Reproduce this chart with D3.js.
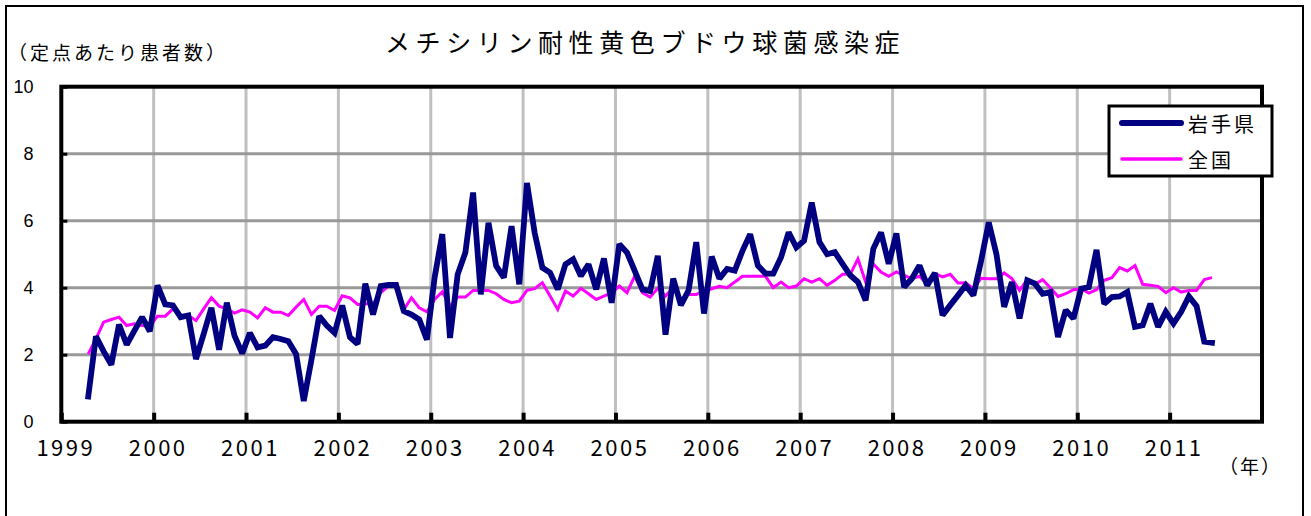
<!DOCTYPE html>
<html><head><meta charset="utf-8">
<script src="https://cdn.jsdelivr.net/npm/d3@7"></script>
<style>
html,body{margin:0;padding:0;background:#fff;}
svg{display:block;}
</style></head><body>
<svg id="chart" width="1311" height="516"></svg>
<script>
const title = "メチシリン耐性黄色ブドウ球菌感染症";
const yAxisTitle = "（定点あたり患者数）";
const xAxisTitle = "（年）";
const seriesNames = ["岩手県", "全国"];
const yearLabels = ["1999","2000","2001","2002","2003","2004","2005","2006","2007","2008","2009","2010","2011"];
const yTicks = [0, 2, 4, 6, 8, 10];
const firstYear = 1999, firstMonth = 4; // data start: April 1999, monthly

const iwate = [
  0.75, 2.55, 2.1, 1.7, 2.9, 2.3, 2.72, 3.12, 2.7,
  4.07, 3.5, 3.47, 3.12, 3.17, 1.87, 2.62, 3.4, 2.15, 3.55, 2.57, 2.04,
  2.65, 2.22, 2.27, 2.52, 2.47, 2.4, 2.02, 0.62, 1.85, 3.15, 2.87, 2.65,
  3.47, 2.52, 2.32, 4.12, 3.2, 4.05, 4.08, 4.08, 3.3, 3.2, 3.05, 2.45,
  4.3, 5.6, 2.5, 4.4, 5.05, 6.84, 3.8, 5.94, 4.65, 4.3, 5.84, 4.1,
  7.13, 5.64, 4.6, 4.45, 3.95, 4.7, 4.85, 4.35, 4.7, 3.95, 4.87, 3.55,
  5.3, 5.05, 4.5, 3.95, 3.9, 4.95, 2.6, 4.27, 3.48, 3.92, 5.36, 3.23,
  4.93, 4.27, 4.56, 4.51, 5.1, 5.6, 4.66, 4.42, 4.42, 4.9, 5.65, 5.2,
  5.4, 6.54, 5.36, 5.0, 5.06, 4.71, 4.37, 4.17, 3.62, 5.16, 5.65, 4.71,
  5.62, 4.02, 4.27, 4.66, 4.07, 4.44, 3.18, 3.48, 3.77, 4.07, 3.77, 4.8,
  5.95, 5.0, 3.43, 4.17, 3.08, 4.22, 4.12, 3.82, 3.87, 2.53, 3.33, 3.08,
  3.97, 4.02, 5.13, 3.52, 3.72, 3.74, 3.87, 2.83, 2.88, 3.52, 2.83, 3.28,
  2.93, 3.28, 3.74, 3.45, 2.39, 2.36
];
const zenkoku = [
  2.02, 2.47, 2.97, 3.05, 3.12, 2.87, 2.92, 2.87, 2.85,
  3.15, 3.15, 3.37, 3.17, 3.17, 3.02, 3.37, 3.7, 3.45, 3.37, 3.24, 3.34,
  3.27, 3.1, 3.4, 3.27, 3.27, 3.17, 3.42, 3.65, 3.2, 3.45, 3.45, 3.32,
  3.76, 3.7, 3.5, 3.52, 3.52, 3.85, 4.05, 4.12, 3.35, 3.7, 3.4, 3.28,
  3.65, 3.88, 3.45, 3.72, 3.72, 3.92, 3.92, 3.92, 3.82, 3.65, 3.55, 3.6,
  3.92, 3.97, 4.15, 3.75, 3.35, 3.9, 3.75, 3.98, 3.82, 3.65, 3.75, 3.85,
  4.05, 3.85, 4.35, 3.85, 3.72, 3.98, 3.75, 4.0, 3.67, 3.8, 3.8, 3.9,
  3.97, 4.04, 4.0, 4.17, 4.34, 4.34, 4.34, 4.34, 4.0, 4.17, 4.0, 4.05,
  4.27, 4.17, 4.27, 4.07, 4.22, 4.4, 4.4, 4.86, 4.17, 4.71, 4.47, 4.34,
  4.47, 4.37, 4.27, 4.34, 4.12, 4.42, 4.32, 4.4, 4.14, 4.15, 3.97, 4.28,
  4.27, 4.27, 4.44, 4.27, 3.92, 4.24, 4.1, 4.24, 4.0, 3.74, 3.82, 3.94,
  3.97, 3.84, 3.94, 4.22, 4.3, 4.6, 4.5, 4.66, 4.1, 4.07, 4.04, 3.85,
  4.0, 3.87, 3.92, 3.92, 4.24, 4.3
];

const navy = "#000080", magenta = "#ff00ff";
const jp = "'Noto Sans CJK JP', sans-serif";
const svg = d3.select("#chart");
const L = 61.3, R = 1262, T = 86.7, B = 421.7;
const x = d3.scaleLinear().domain([0, yearLabels.length * 12]).range([L, R]); // months since Jan of first year
const y = d3.scaleLinear().domain([0, 10]).range([B, T]);
const monthPos = i => (firstMonth - 1) + i + 0.5;

// outer frame
svg.append("rect").attr("x", 6).attr("y", 6).attr("width", 1297).attr("height", 540)
  .attr("fill", "#fff").attr("stroke", "#000").attr("stroke-width", 2);

// vertical gridlines (years)
const yearMonths = yearLabels.map((d, i) => i * 12);
svg.append("g").selectAll("line").data(yearMonths.slice(1)).join("line")
  .attr("x1", d => x(d)).attr("x2", d => x(d)).attr("y1", T).attr("y2", B)
  .attr("stroke", "#c0c0c0").attr("stroke-width", 3);
// horizontal gridlines
svg.append("g").selectAll("line").data(yTicks.slice(1, -1)).join("line")
  .attr("x1", L).attr("x2", R).attr("y1", d => y(d)).attr("y2", d => y(d))
  .attr("stroke", "#999999").attr("stroke-width", 3);

// plot border
svg.append("rect").attr("x", L).attr("y", T).attr("width", R - L).attr("height", B - T)
  .attr("fill", "none").attr("stroke", "#000").attr("stroke-width", 4);

// y axis
const yAxis = svg.append("g").attr("transform", `translate(${L},0)`)
  .call(d3.axisLeft(y).tickValues(yTicks).tickSize(-6).tickPadding(L - 33.5));
yAxis.select(".domain").remove();
yAxis.selectAll(".tick line").attr("stroke", "#000").attr("stroke-width", 3);
yAxis.selectAll(".tick text").attr("fill", "#000")
  .style("font-family", "'Liberation Sans', Arial, sans-serif").style("font-size", "18px");

// x axis
const xAxis = svg.append("g").attr("transform", `translate(0,${B})`)
  .call(d3.axisBottom(x).tickValues(yearMonths).tickFormat((d, i) => yearLabels[i])
    .tickSize(-9).tickPadding(19));
xAxis.select(".domain").remove();
xAxis.selectAll(".tick line").attr("stroke", "#000").attr("stroke-width", 4);
xAxis.selectAll(".tick text").attr("fill", "#000").attr("dx", 4)
  .style("font-family", jp).style("font-size", "22px").style("letter-spacing", "2.5px");

// data lines
const line = d3.line().x((d, i) => x(monthPos(i))).y(d => y(d));
svg.append("path").datum(zenkoku).attr("d", line)
  .attr("fill", "none").attr("stroke", magenta).attr("stroke-width", 3).attr("stroke-linejoin", "miter");
svg.append("path").datum(iwate).attr("d", line)
  .attr("fill", "none").attr("stroke", navy).attr("stroke-width", 5.8).attr("stroke-linejoin", "miter")
  .attr("stroke-miterlimit", 2).attr("stroke-linecap", "square");

// titles
svg.append("text").attr("x", 385).attr("y", 52).text(title)
  .style("font-family", jp).style("font-size", "25px").style("letter-spacing", "5.6px");
svg.append("text").attr("x", 8).attr("y", 60).text(yAxisTitle)
  .style("font-family", jp).style("font-size", "19px").style("letter-spacing", "3px");
svg.append("text").attr("x", 1219).attr("y", 474).text(xAxisTitle)
  .style("font-family", jp).style("font-size", "19px").style("letter-spacing", "2px");

// legend
const lg = svg.append("g");
lg.append("rect").attr("x", 1109).attr("y", 106).attr("width", 163).attr("height", 70)
  .attr("fill", "#fff").attr("stroke", "#000").attr("stroke-width", 3);
const legendItems = [
  {name: seriesNames[0], color: navy, w: 6, yy: 123},
  {name: seriesNames[1], color: magenta, w: 3.5, yy: 159}
];
legendItems.forEach(it => {
  lg.append("line").attr("x1", 1122).attr("x2", 1181).attr("y1", it.yy).attr("y2", it.yy)
    .attr("stroke", it.color).attr("stroke-width", it.w).attr("stroke-linecap", "round");
  lg.append("text").attr("x", 1188).attr("y", it.yy).attr("dominant-baseline", "central").text(it.name)
    .style("font-family", jp).style("font-size", "20px").style("letter-spacing", "3px");
});
</script>
</body></html>
